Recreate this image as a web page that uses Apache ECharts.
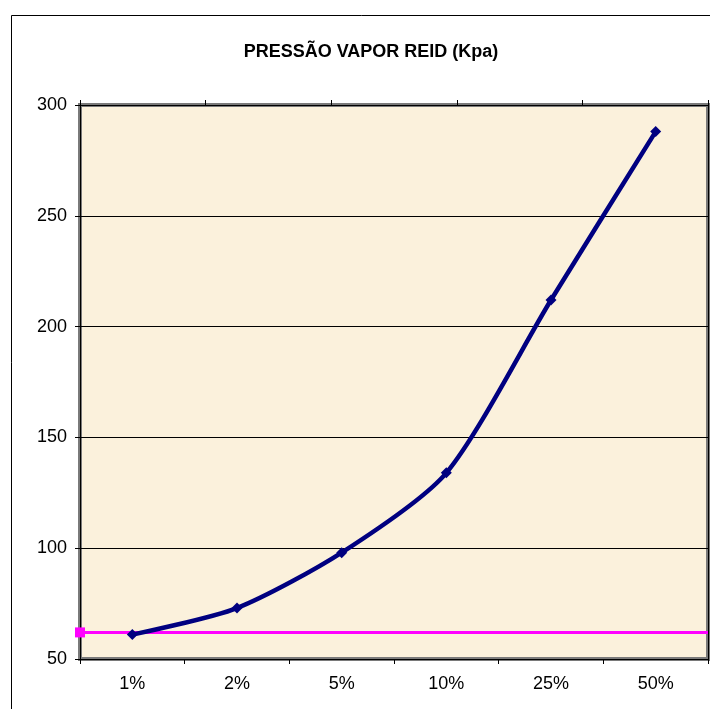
<!DOCTYPE html>
<html>
<head>
<meta charset="utf-8">
<script src="https://cdn.jsdelivr.net/npm/echarts@6/dist/echarts.min.js"></script>
<style>
  html, body { margin: 0; padding: 0; background: #ffffff; }
  #chart { width: 710px; height: 709px; }
</style>
</head>
<body>
<div id="chart"></div>
<script>
// categorias (eixo x) e valores da curva
const categories = ["1%", "2%", "5%", "10%", "25%", "50%"];
const pressureValues = [61, 73, 98, 134, 212, 288];
// linha de referência (magenta), eixo secundário
const referenceValues = [62, 62, 62, 62, 62, 62];
const yTicks = { min: 50, max: 300, interval: 50 };

const chart = echarts.init(document.getElementById("chart"));

const font = "Arial, 'Liberation Sans', sans-serif";

const option = {
  animation: false,
  backgroundColor: "#ffffff",
  title: {
    text: "PRESSÃO VAPOR REID (Kpa)",
    left: 366,
    textAlign: "center",
    top: 38,
    textStyle: { fontFamily: font, fontSize: 18, fontWeight: "bold", color: "#000" }
  },
  // moldura externa do gráfico
  graphic: [{
    type: "rect",
    shape: { x: 11.5, y: 15.5, width: 720, height: 720 },
    style: { fill: "none", stroke: "#000", lineWidth: 1 },
    silent: true
  }],
  grid: {
    left: 80, right: 2, top: 105, bottom: 50,
    show: true,
    backgroundColor: "#FBF1DC",
    borderColor: "#7a7a7a",
    borderWidth: 4
  },
  xAxis: [
    {
      type: "category",
      data: categories,
      position: "bottom",
      boundaryGap: true,
      axisLine: { lineStyle: { color: "#000", width: 1 } },
      axisTick: { show: true, inside: false, length: 5, lineStyle: { color: "#000" } },
      axisLabel: { color: "#000", fontFamily: font, fontSize: 18, margin: 16 },
      splitLine: { show: false }
    },
    {
      type: "category",
      data: categories,
      position: "top",
      boundaryGap: false,
      axisLine: { lineStyle: { color: "#000", width: 1 } },
      axisTick: { show: true, inside: false, length: 5, lineStyle: { color: "#000" } },
      axisLabel: { show: false },
      splitLine: { show: false }
    }
  ],
  yAxis: [
    {
      type: "value",
      min: yTicks.min, max: yTicks.max, interval: yTicks.interval,
      axisLine: { show: true, lineStyle: { color: "#000", width: 1 } },
      axisTick: { show: true, inside: false, length: 5, lineStyle: { color: "#000" } },
      axisLabel: { color: "#000", fontFamily: font, fontSize: 18, margin: 13 },
      splitLine: { show: true, lineStyle: { color: "#000", width: 1 } }
    },
    {
      type: "value",
      position: "right",
      min: yTicks.min, max: yTicks.max, interval: yTicks.interval,
      axisLine: { show: true, lineStyle: { color: "#000", width: 1 } },
      axisTick: { show: false },
      axisLabel: { show: false },
      splitLine: { show: false }
    }
  ],
  series: [
    {
      name: "Referência",
      type: "line",
      xAxisIndex: 1,
      yAxisIndex: 0,
      data: referenceValues.map((v, i) => i === 0
        ? { value: v, symbol: "rect", symbolSize: 10 }
        : { value: v, symbol: "none" }),
      lineStyle: { color: "#FF00FF", width: 3 },
      itemStyle: { color: "#FF00FF" },
      z: 3
    },
    {
      name: "PVR",
      type: "line",
      xAxisIndex: 0,
      yAxisIndex: 0,
      data: pressureValues,
      smooth: 0.25,
      symbol: "path://M0,-1L1,0L0,1L-1,0Z",
      symbolSize: 11,
      showAllSymbol: true,
      lineStyle: { color: "#000080", width: 4.5 },
      itemStyle: { color: "#000080" },
      z: 4
    }
  ]
};

chart.setOption(option);
</script>
</body>
</html>
